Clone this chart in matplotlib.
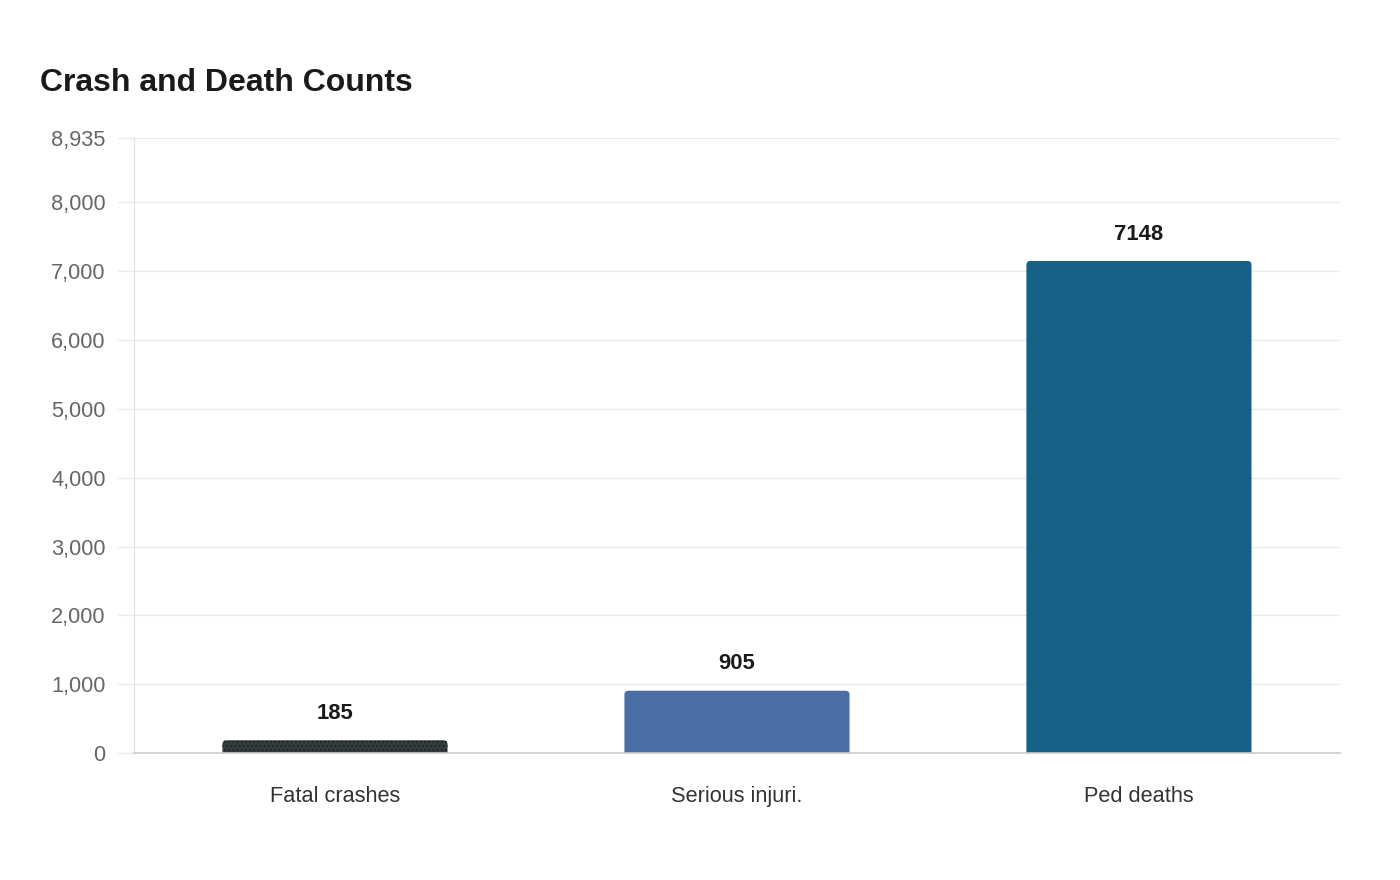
import matplotlib.pyplot as plt
from matplotlib.patches import FancyBboxPatch

# chart data
categories = ['Fatal crashes', 'Serious injuri.', 'Ped deaths']
counts = [185, 905, 7148]
bar_colors = ['#333d3d', '#4a6ea3', '#176087']
y_max = 8935
y_ticks = [0, 1000, 2000, 3000, 4000, 5000, 6000, 7000, 8000, y_max]

plt.rcParams['font.family'] = ['Liberation Sans', 'DejaVu Sans']
plt.rcParams['hatch.linewidth'] = 0.8

fig = plt.figure(figsize=(14, 8.8), dpi=100)
ax = fig.add_axes([0.0957, 0.1443, 0.8614, 0.6989])

bar_width = 0.56
ax.set_xlim(-0.5, len(categories) - 0.5)
ax.set_ylim(0, y_max)

# px -> data scale for rounded corners
x_per_px = (len(categories)) / 1206.0
y_per_px = y_max / 615.0
radius = 4 * x_per_px
below = 6 * y_per_px  # push rounded bottom under the axis (clipped)

for i, (val, col) in enumerate(zip(counts, bar_colors)):
    patch = FancyBboxPatch((i - bar_width / 2, -below), bar_width, val + below,
                           boxstyle='round,pad=0,rounding_size=%f' % radius,
                           mutation_aspect=y_per_px / x_per_px,
                           facecolor=col, edgecolor='none', zorder=3)
    if i == 0:
        patch.set_hatch('....')
        patch.set_edgecolor('#1c2323')
        patch.set_linewidth(0)
    ax.add_patch(patch)
    ax.annotate(str(val), (i, val), xytext=(0, 19.3), textcoords='offset points',
                ha='center', va='center', fontsize=15.8, fontweight='bold',
                color='#1a1a1a')

ax.set_yticks(y_ticks)
ax.set_yticklabels(['{:,}'.format(t) for t in y_ticks])
ax.set_xticks(range(len(categories)))
ax.set_xticklabels(categories)

ax.grid(axis='y', color='#ebebeb', linewidth=1, zorder=0)
ax.set_axisbelow(True)
ax.tick_params(axis='y', length=11.5, width=1, color='#ebebeb', pad=9,
               labelsize=15.7, labelcolor='#666666')
ax.tick_params(axis='x', length=0, pad=23.5, labelsize=15.7, labelcolor='#333333')

for s in ['top', 'right']:
    ax.spines[s].set_visible(False)
ax.spines['left'].set_color('#e0e0e0')
ax.spines['bottom'].set_color('#cccccc')
ax.spines['bottom'].set_linewidth(1.2)
ax.spines['bottom'].set_zorder(4)

fig.text(40 / 1400, 1 - 83 / 880, 'Crash and Death Counts', fontsize=23,
         fontweight='bold', color='#1a1a1a', ha='left', va='center')

fig.savefig('out.png', dpi=100)
